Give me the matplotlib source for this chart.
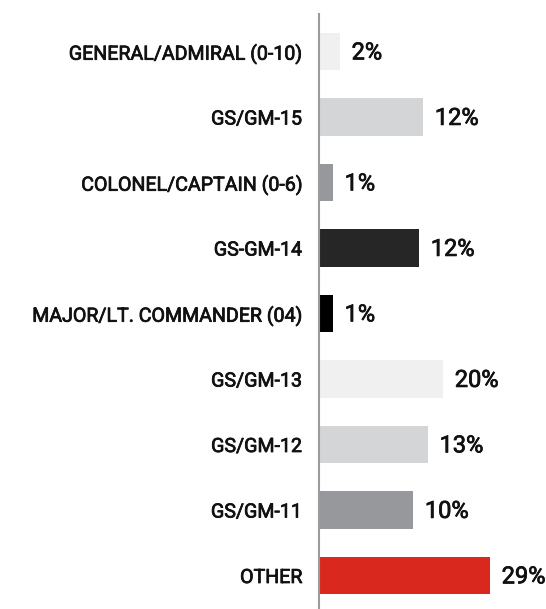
import matplotlib.pyplot as plt
import matplotlib.patheffects as pe

# categories top to bottom
categories = [
    "GENERAL/ADMIRAL (0-10)",
    "GS/GM-15",
    "COLONEL/CAPTAIN (0-6)",
    "GS-GM-14",
    "MAJOR/LT. COMMANDER (04)",
    "GS/GM-13",
    "GS/GM-12",
    "GS/GM-11",
    "OTHER",
]
# printed labels
pct_labels = ["2%", "12%", "1%", "12%", "1%", "20%", "13%", "10%", "29%"]
# bar lengths as drawn in the picture (same scale as the 29% bar)
bar_lengths = [3.4, 17.6, 2.2, 16.9, 2.2, 21.0, 18.4, 15.9, 29.0]
colors = ["#f0f0f0", "#d4d5d7", "#97989b", "#262626", "#000000",
          "#f0f0f0", "#d4d5d7", "#97989b", "#d9291e"]

W, H = 546, 609
fig = plt.figure(figsize=(W / 100, H / 100), dpi=100)
ax_left = 319 / W
ax = fig.add_axes([ax_left, 0.0, 1 - ax_left, 1 - 14 / H])

ypos = list(range(len(categories)))
ax.barh(ypos, bar_lengths, height=0.565, color=colors, left=0.15)

font = ["Roboto", "DejaVu Sans"]
txt_col = "#111111"
# fake a medium weight: regular glyphs with a thin outline
medium = [pe.withStroke(linewidth=0.55, foreground=txt_col)]

for y, w, lab in zip(ypos, bar_lengths, pct_labels):
    ax.annotate(lab, (w + 0.15, y), xytext=(8.5, -1), textcoords="offset points",
                ha="left", va="center", fontsize=17, family=font,
                color=txt_col, path_effects=medium)

ax.set_yticks(ypos)
ax.set_yticklabels(categories, family=font, fontsize=14.1, color=txt_col)
for t in ax.get_yticklabels():
    t.set_path_effects(medium)
ax.tick_params(axis="y", length=0, pad=12)
ax.set_xticks([])

px_per_unit = 170 / 29
ax.set_xlim(0, (W - 319) / px_per_unit)
ax.set_ylim((609 - 51.5) / 65.5, (14 - 51.5) / 65.5)

for s in ["top", "right", "bottom"]:
    ax.spines[s].set_visible(False)
ax.spines["left"].set_color("#9b9b9b")
ax.spines["left"].set_linewidth(1.5)

fig.savefig("out.png", dpi=100)
